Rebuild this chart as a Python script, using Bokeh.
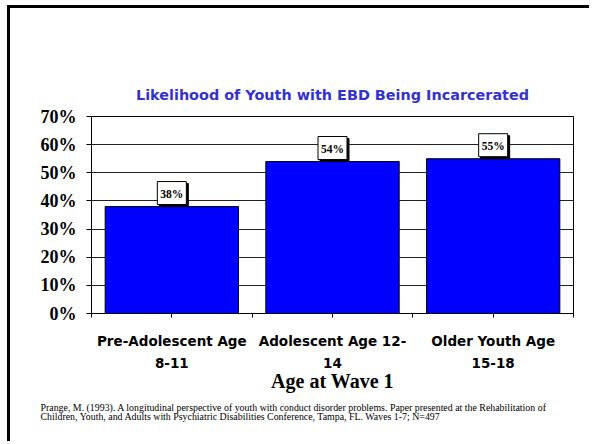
import numpy as np
from bokeh.plotting import figure
from bokeh.models import (ColumnDataSource, Label, FixedTicker, NumeralTickFormatter,
                          Title, Range1d)
from bokeh.embed import file_html
from bokeh.resources import INLINE

# ---- data ----
categories = ["Pre-Adolescent Age\n8-11", "Adolescent Age 12-\n14", "Older Youth Age\n15-18"]
values = [0.38, 0.54, 0.55]
value_labels = ["38%", "54%", "55%"]
y_ticks = [0.0, 0.1, 0.2, 0.3, 0.4, 0.5, 0.6, 0.7]
title_text = "Likelihood of Youth with EBD Being Incarcerated"
x_title = "Age at Wave 1"
footnote_lines = [
    "Prange, M. (1993). A longitudinal perspective of youth with conduct disorder problems. Paper presented at the Rehabilitation of",
    "Children, Youth, and Adults with Psychiatric Disabilities Conference, Tampa, FL. Waves 1-7; N=497",
]

n = len(categories)
x_pos = np.arange(n) + 0.5

src = ColumnDataSource(dict(x=x_pos, top=values, label=value_labels))

p = figure(width=582, height=436, output_backend="svg", toolbar_location=None,
           x_range=Range1d(0, n), y_range=Range1d(0, 0.7),
           min_border_left=81, min_border_right=19, min_border_top=108, min_border_bottom=131)
p.styles = {"margin-left": "7px", "margin-top": "5px",
            "border-left": "3px solid black", "border-top": "3px solid black"}

p.outline_line_color = "black"
p.outline_line_width = 1
p.background_fill_color = "white"
p.border_fill_color = "white"

p.vbar(x="x", top="top", width=0.83, source=src, fill_color="#0000FF",
       line_color="black", line_width=1)

# value labels with shadow
pad = dict(left=3, right=3, top=6, bottom=5)
for xv, yv, tx in zip(x_pos, values, value_labels):
    for shade in (True, False):
        lab = Label(x=float(xv), y=yv, text=tx, text_align="center", text_baseline="bottom",
                    x_offset=2 if shade else 0, y_offset=0 if shade else 2,
                    text_font="Liberation Serif", text_font_style="bold", text_font_size="11.5px",
                    text_color="black",
                    background_fill_color="black" if shade else "white",
                    border_line_color="black", padding=pad)
        p.add_layout(lab)

# title
p.title.text = title_text
p.title.align = "center"
p.title.text_font = "DejaVu Sans"
p.title.text_font_style = "bold"
p.title.text_font_size = "14.4px"
p.title.text_color = "#3333CC"
p.title.standoff = 27

# y axis
p.yaxis.ticker = FixedTicker(ticks=y_ticks)
p.yaxis.formatter = NumeralTickFormatter(format="0%")
p.yaxis.major_label_text_font = "Liberation Serif"
p.yaxis.major_label_text_font_style = "bold"
p.yaxis.major_label_text_font_size = "18px"
p.yaxis.major_label_text_color = "black"
p.yaxis.major_tick_out = 5
p.yaxis.major_tick_in = 0
p.yaxis.minor_tick_out = 0
p.yaxis.minor_tick_in = 0
p.yaxis.axis_line_color = "black"
p.yaxis.major_tick_line_color = "black"
p.yaxis.major_label_standoff = 10

# x axis
bounds = np.arange(n + 1).tolist()
p.xaxis.ticker = FixedTicker(ticks=sorted(bounds + x_pos.tolist()))
overrides = {float(b): "" for b in bounds}
overrides.update({float(x): c for x, c in zip(x_pos, categories)})
p.xaxis.major_label_overrides = overrides
p.xaxis.major_label_text_font = "DejaVu Sans"
p.xaxis.major_label_text_font_style = "bold"
p.xaxis.major_label_text_font_size = "13.5px"
p.xaxis.major_label_text_color = "black"
p.xaxis.major_label_text_line_height = 1.38
p.xaxis.major_label_standoff = 15
p.xaxis.major_tick_out = 4
p.xaxis.major_tick_in = 0
p.xaxis.minor_tick_out = 0
p.xaxis.axis_line_color = "black"
p.xaxis.major_tick_line_color = "black"
p.xaxis.axis_label = x_title
p.xaxis.axis_label_standoff = -4
p.xaxis.axis_label_text_font = "Liberation Serif"
p.xaxis.axis_label_text_font_style = "bold"
p.xaxis.axis_label_text_font_size = "20px"
p.xaxis.axis_label_text_color = "black"

p.xgrid.grid_line_color = None
p.ygrid.ticker = FixedTicker(ticks=y_ticks)
p.ygrid.grid_line_color = "#222222"
p.ygrid.grid_line_width = 1

t_note = Title(text="\n".join(footnote_lines), align="left", offset=-51,
               text_font="Liberation Serif", text_font_style="normal", text_font_size="9.9px",
               text_color="black", text_line_height=0.9, standoff=14, vertical_align="top")
p.add_layout(t_note, "below")

open("out.html", "w").write(file_html(p, INLINE))
